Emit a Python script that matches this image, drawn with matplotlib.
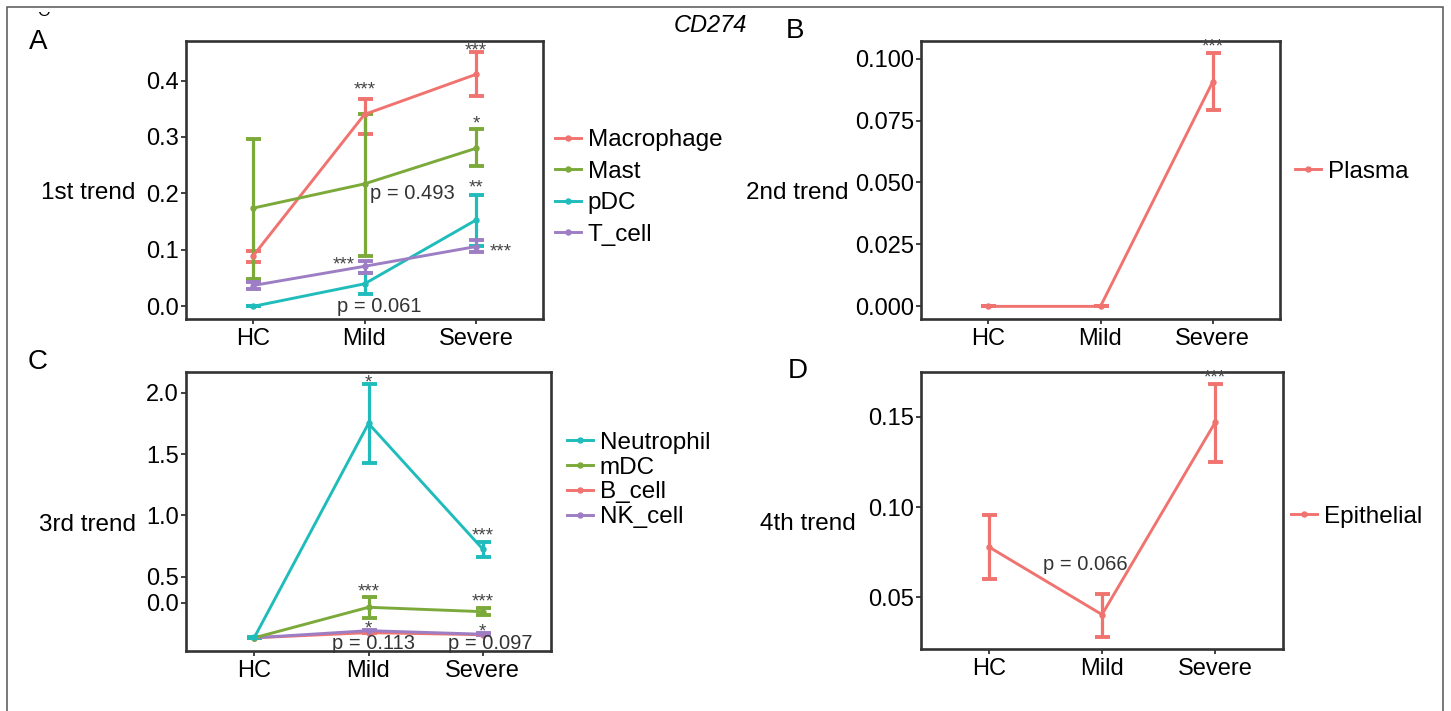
import matplotlib
matplotlib.use("Agg")
import matplotlib.pyplot as plt
from matplotlib.patches import Rectangle
import numpy as np

plt.rcParams['font.family'] = ['Liberation Sans', 'DejaVu Sans']

groups = ["HC", "Mild", "Severe"]

# Panel A (1st trend)
a_series = ["Macrophage", "Mast", "pDC", "T_cell"]
a_mean = {"Macrophage": [0.089, 0.340, 0.411], "Mast": [0.174, 0.217, 0.280],
          "pDC": [0.0, 0.040, 0.153], "T_cell": [0.037, 0.071, 0.106]}
a_lo = {"Macrophage": [0.078, 0.306, 0.373], "Mast": [0.048, 0.090, 0.248],
        "pDC": [0.0, 0.022, 0.107], "T_cell": [0.030, 0.060, 0.097]}
a_hi = {"Macrophage": [0.099, 0.368, 0.450], "Mast": [0.296, 0.341, 0.314],
        "pDC": [0.001, 0.059, 0.197], "T_cell": [0.044, 0.080, 0.117]}

# Panel B (2nd trend)
b_series = ["Plasma"]
b_mean = {"Plasma": [0.0, 0.0, 0.0906]}
b_lo = {"Plasma": [0.0, 0.0, 0.0792]}
b_hi = {"Plasma": [0.0, 0.0, 0.1021]}

# Panel C (3rd trend)
c_series = ["Neutrophil", "mDC", "B_cell", "NK_cell"]
c_mean = {"Neutrophil": [0.004, 1.75, 0.726], "mDC": [0.0, 0.249, 0.213],
          "B_cell": [0.0, 0.042, 0.025], "NK_cell": [0.0, 0.058, 0.029]}
c_lo = {"Neutrophil": [0.0, 1.43, 0.658], "mDC": [0.0, 0.159, 0.186],
        "B_cell": [0.0, 0.035, 0.020], "NK_cell": [0.0, 0.050, 0.022]}
c_hi = {"Neutrophil": [0.010, 2.07, 0.786], "mDC": [0.0, 0.336, 0.241],
        "B_cell": [0.0, 0.050, 0.030], "NK_cell": [0.0, 0.065, 0.036]}

# Panel D (4th trend)
d_series = ["Epithelial"]
d_mean = {"Epithelial": [0.0779, 0.0404, 0.1469]}
d_lo = {"Epithelial": [0.0602, 0.0280, 0.1251]}
d_hi = {"Epithelial": [0.0956, 0.0518, 0.1685]}

colors = {"Macrophage": "#F0736F", "Mast": "#7BAA3B", "pDC": "#20BCBC", "T_cell": "#9D7EC4",
          "Plasma": "#F0736F", "Neutrophil": "#20BCBC", "mDC": "#7BAA3B",
          "B_cell": "#F0736F", "NK_cell": "#9D7EC4", "Epithelial": "#F0736F"}

# Tick values / labels
a_ticks = [0.0, 0.1, 0.2, 0.3, 0.4]
a_ticklabels = ["0.0", "0.1", "0.2", "0.3", "0.4"]
b_ticks = [0.0, 0.025, 0.05, 0.075, 0.1]
b_ticklabels = ["0.000", "0.025", "0.050", "0.075", "0.100"]
c_ticks = [0.287, 0.5, 1.0, 1.5, 2.0]
c_ticklabels = ["0.0", "0.5", "1.0", "1.5", "2.0"]
d_ticks = [0.05, 0.10, 0.15]
d_ticklabels = ["0.05", "0.10", "0.15"]

# Annotations: (x index, y, text, kind)
a_notes = [(1, 0.383, "***", "s"), (2, 0.453, "***", "s"), (2, 0.323, "*", "s"),
           (2, 0.210, "**", "s"), (2.224, 0.097, "***", "s"), (0.815, 0.073, "***", "s"),
           (1.048, 0.200, "p = 0.493", "pl"), (1.128, 0.0, "p = 0.061", "p")]
b_notes = [(2, 0.1045, "***", "s")]
c_notes = [(1, 2.08, "*", "s"), (2, 0.83, "***", "s"), (1, 0.375, "***", "s"),
           (2, 0.293, "***", "s"), (1, 0.075, "*", "s"), (2, 0.048, "*", "s"),
           (1.04, -0.05, "p = 0.113", "p"), (2.07, -0.05, "p = 0.097", "p")]
d_notes = [(2, 0.1715, "***", "s"), (0.85, 0.0684, "p = 0.066", "p")]

W, H = 1451, 711
fig = plt.figure(figsize=(W / 100, H / 100), dpi=100)


def add_ax(l, r, t, b):
    return fig.add_axes([l / W, 1 - b / H, (r - l) / W, (b - t) / H])


def draw_panel(ax, series, mean, lo, hi, order, ylim, ticks, ticklabels, notes,
               ylabel, ylab_x, legend_xy, labelspacing):
    x = np.arange(len(groups))
    handles = {}
    for name in order:
        m = np.array(mean[name])
        yerr = np.vstack([m - np.array(lo[name]), np.array(hi[name]) - m])
        eb = ax.errorbar(x, m, yerr=yerr, color=colors[name], lw=2.1, elinewidth=2.3,
                         capsize=5.4, capthick=2.8, marker='o', ms=3.6, label=name)
        handles[name] = eb[0]
    ax.set_xlim(-0.6, 2.6)
    ax.set_ylim(*ylim)
    ax.set_xticks(x)
    ax.set_xticklabels(groups)
    ax.set_yticks(ticks)
    ax.set_yticklabels(ticklabels)
    ax.tick_params(axis='both', labelsize=17, length=3.5, width=1.3, color='#333333',
                   pad=1.5, labelcolor='black')
    ax.tick_params(axis='x', pad=3)
    for sp in ax.spines.values():
        sp.set_color('#333333')
        sp.set_linewidth(1.9)
    ax.set_ylabel(ylabel, rotation=0, fontsize=17.5, ha='right', va='center')
    ax.yaxis.set_label_coords(ylab_x, 0.453)
    for (nx, ny, s, kind) in notes:
        if kind == "s":
            ax.text(nx, ny, s, ha='center', va='center', fontsize=13.5, color='#444444')
        elif kind == "pl":
            ax.text(nx, ny, s, ha='left', va='center', fontsize=14.5, color='#333333')
        else:
            ax.text(nx, ny, s, ha='center', va='center', fontsize=14.5, color='#333333')
    ax.legend([handles[n] for n in series], series, loc='center left',
              bbox_to_anchor=legend_xy, frameon=False, fontsize=17.5, borderpad=0,
              borderaxespad=0, handlelength=1.05, handletextpad=0.3,
              labelspacing=labelspacing)


axA = add_ax(186, 543, 41, 319)
axB = add_ax(921, 1280, 41, 319)
axC = add_ax(186, 551, 372, 651)
axD = add_ax(921, 1283, 372, 649)

draw_panel(axA, a_series, a_mean, a_lo, a_hi, ["Macrophage", "Mast", "pDC", "T_cell"],
           (-0.0223, 0.470), a_ticks, a_ticklabels, a_notes, "1st trend", -0.143,
           ((555 - 186) / 357, 1 - (187.5 - 41) / 278), 0.39)
draw_panel(axB, b_series, b_mean, b_lo, b_hi, ["Plasma"],
           (-0.0051, 0.1071), b_ticks, b_ticklabels, b_notes, "2nd trend", -0.203,
           ((1295 - 921) / 359, 1 - (171.7 - 41) / 278), 0.15)
draw_panel(axC, c_series, c_mean, c_lo, c_hi, ["B_cell", "NK_cell", "mDC", "Neutrophil"],
           (-0.108, 2.17), c_ticks, c_ticklabels, c_notes, "3rd trend", -0.137,
           ((567 - 186) / 365, 1 - (480 - 372) / 279), 0.12)
draw_panel(axD, d_series, d_mean, d_lo, d_hi, ["Epithelial"],
           (0.0213, 0.1749), d_ticks, d_ticklabels, d_notes, "4th trend", -0.18,
           ((1291 - 921) / 362, 1 - (516.7 - 372) / 277), 0.15)

# Panel letters and title
fig.text(38 / W, 1 - 42 / H, "A", fontsize=20, ha='center', va='center')
fig.text(795 / W, 1 - 31 / H, "B", fontsize=20, ha='center', va='center')
fig.text(38 / W, 1 - 362 / H, "C", fontsize=20, ha='center', va='center')
fig.text(798 / W, 1 - 371 / H, "D", fontsize=20, ha='center', va='center')
fig.text(710 / W, 1 - 26 / H, "CD274", fontsize=17, style='italic', ha='center', va='center')

# Outer frame
fig.patches.append(Rectangle((7 / W, -0.05), (1443 - 7) / W, 1.05 - 7 / H,
                             transform=fig.transFigure, fill=False,
                             edgecolor='#555555', lw=1.1, clip_on=False))

# Clipped letter remnant at the top left
clip = Rectangle((0, 0), 1, 1 - 12 / H, transform=fig.transFigure)
t = fig.text(44 / W, 1 - 11.5 / H, "O", fontsize=12, ha='center', va='center')
t.set_clip_path(clip)

fig.savefig("out.png", dpi=100)
